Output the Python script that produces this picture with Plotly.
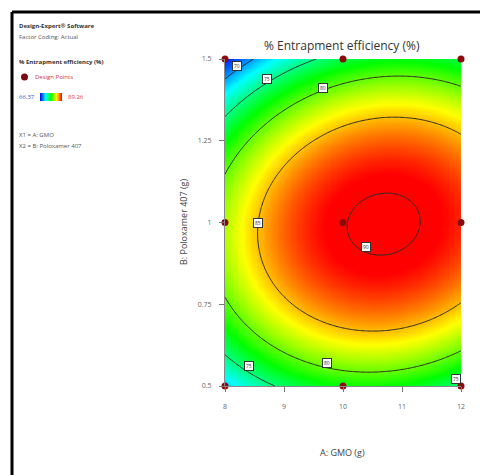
import numpy as np
import plotly.graph_objects as go

# ---- data ----
# quadratic response-surface model in coded units A=(GMO-10)/2, B=(Poloxamer-1)/0.5
coef_b0 = 89.88
coef_A = 3.335
coef_B = -0.722
coef_AB = 1.349
coef_A2 = -4.814
coef_B2 = -12.85

gmo_range = [8, 12]
polox_range = [0.5, 1.5]
color_min = 66.37
color_max = 89.26
contour_levels = [70, 75, 80, 85, 90]

design_gmo = [8, 10, 12, 8, 10, 12, 8, 10, 12]
design_polox = [1.5, 1.5, 1.5, 1.0, 1.0, 1.0, 0.5, 0.5, 0.5]

label_text = ["70", "75", "80", "85", "90", "75", "80", "75"]
label_gmo = [8.2, 8.71, 9.66, 8.56, 10.39, 8.4, 9.73, 11.92]
label_polox = [1.48, 1.44, 1.41, 1.0, 0.925, 0.56, 0.57, 0.52]

x_ticks = [8, 9, 10, 11, 12]
y_ticks = [0.5, 0.75, 1, 1.25, 1.5]
y_tick_text = ["0.5", "0.75", "1", "1.25", "1.5"]

# ---- surface ----
gx = np.linspace(gmo_range[0], gmo_range[1], 201)
gy = np.linspace(polox_range[0], polox_range[1], 151)
X, Y = np.meshgrid(gx, gy)
A = (X - 10) / 2
B = (Y - 1) / 0.5
Z = coef_b0 + coef_A * A + coef_B * B + coef_AB * A * B + coef_A2 * A ** 2 + coef_B2 * B ** 2

dx_scale = [[0, "rgb(0,0,255)"], [0.25, "rgb(0,255,255)"], [0.5, "rgb(0,255,0)"],
            [0.75, "rgb(255,255,0)"], [1, "rgb(255,0,0)"]]

W, H = 480, 475
px = lambda v: v / W
py = lambda v: 1 - v / H

FONT = "Open Sans"

fig = go.Figure()
fig.add_trace(go.Heatmap(x=gx, y=gy, z=Z, colorscale=dx_scale, zmin=color_min, zmax=color_max,
                         showscale=False, zsmooth="best", hoverinfo="skip"))
fig.add_trace(go.Contour(x=gx, y=gy, z=Z, showscale=False,
                         contours=dict(coloring="lines", start=contour_levels[0],
                                       end=contour_levels[-1], size=5),
                         colorscale=[[0, "#2a2a2a"], [1, "#2a2a2a"]],
                         line=dict(width=1), hoverinfo="skip"))
fig.add_trace(go.Scatter(x=design_gmo, y=design_polox, mode="markers", cliponaxis=False,
                         marker=dict(color="#8b0a0a", size=7), hoverinfo="skip"))

# legend gradient bar
grad = np.linspace(0, 1, 60)
fig.add_trace(go.Heatmap(z=[grad], colorscale=dx_scale, zmin=0, zmax=1, showscale=False,
                         xaxis="x2", yaxis="y2", hoverinfo="skip"))

tickfont = dict(family=FONT, size=7, color="#666")
fig.update_layout(
    width=W, height=H, margin=dict(l=0, r=0, t=0, b=0),
    paper_bgcolor="white", plot_bgcolor="white", showlegend=False,
    xaxis=dict(domain=[px(225), px(461)], range=gmo_range, tickvals=x_ticks,
               ticks="outside", ticklen=5, tickcolor="#777", tickfont=tickfont,
               ticklabelstandoff=9,
               showgrid=False, zeroline=False, showline=True, linecolor="#888", linewidth=1,
               automargin=False),
    yaxis=dict(domain=[py(386), py(59)], range=polox_range, tickvals=y_ticks, ticktext=y_tick_text,
               ticks="outside", ticklen=5, tickcolor="#777", tickfont=tickfont,
               ticklabelstandoff=6,
               showgrid=False, zeroline=False, showline=True, linecolor="#888", linewidth=1,
               automargin=False),
    xaxis2=dict(domain=[px(40), px(62)], visible=False, anchor="y2"),
    yaxis2=dict(domain=[py(101), py(93)], visible=False, anchor="x2"),
)

ann = []
ann.append(dict(x=px(342), y=py(46), xref="paper", yref="paper", text="% Entrapment efficiency (%)",
                xanchor="center", yanchor="middle",
                showarrow=False, font=dict(family=FONT, size=12, color="#333")))
ann.append(dict(x=px(342), y=py(452), xref="paper", yref="paper", text="A: GMO (g)",
                xanchor="center", yanchor="middle",
                showarrow=False, font=dict(family=FONT, size=9, color="#444")))
ann.append(dict(x=px(183), y=py(222), xref="paper", yref="paper", text="B: Poloxamer 407 (g)",
                xanchor="center", yanchor="middle",
                textangle=-90, showarrow=False, font=dict(family=FONT, size=9, color="#444")))

left_items = [
    ("<b>Design-Expert® Software</b>", 26, "#333", 6),
    ("Factor Coding: Actual", 37, "#555", 6),
    ("<b>% Entrapment efficiency (%)</b>", 62, "#333", 6),
    ("X1 = A: GMO", 135, "#555", 6),
    ("X2 = B: Poloxamer 407", 146, "#555", 6),
]
for t, yy, c, s in left_items:
    ann.append(dict(x=px(17), y=py(yy), xref="paper", yref="paper", text=t, xanchor="left",
                    yanchor="middle", showarrow=False, font=dict(family=FONT, size=s, color=c)))
ann.append(dict(x=px(33), y=py(77), xref="paper", yref="paper", text="Design Points", xanchor="left",
                yanchor="middle", showarrow=False, font=dict(family=FONT, size=6, color="#d0304a")))
ann.append(dict(x=px(17), y=py(97), xref="paper", yref="paper", text=f"{color_min:.2f}", xanchor="left",
                yanchor="middle", showarrow=False, font=dict(family=FONT, size=6, color="#4a4ae0")))
ann.append(dict(x=px(66), y=py(97), xref="paper", yref="paper", text=f"{color_max:.2f}", xanchor="left",
                yanchor="middle", showarrow=False, font=dict(family=FONT, size=6, color="#e04040")))

for t, lx, ly in zip(label_text, label_gmo, label_polox):
    ann.append(dict(x=lx, y=ly, xref="x", yref="y", text=t, showarrow=False,
                    xanchor="center", yanchor="middle",
                    font=dict(family=FONT, size=5, color="#334"), bgcolor="white",
                    bordercolor="#333", borderwidth=1, borderpad=1))
fig.update_layout(annotations=ann)

shapes = [
    dict(type="line", xref="paper", yref="paper", x0=px(12), x1=1.0, y0=py(12), y1=py(12),
         line=dict(color="black", width=3)),
    dict(type="line", xref="paper", yref="paper", x0=px(12), x1=px(12), y0=py(12), y1=0,
         line=dict(color="black", width=3)),
    dict(type="circle", xref="paper", yref="paper", x0=px(21), x1=px(28), y0=py(80.5), y1=py(73.5),
         fillcolor="#7a0a10", line=dict(color="#7a0a10", width=0)),
]
fig.update_layout(shapes=shapes)

fig.write_html("out.html", config={"displayModeBar": False},
               post_script="document.body.style.margin='0';")
